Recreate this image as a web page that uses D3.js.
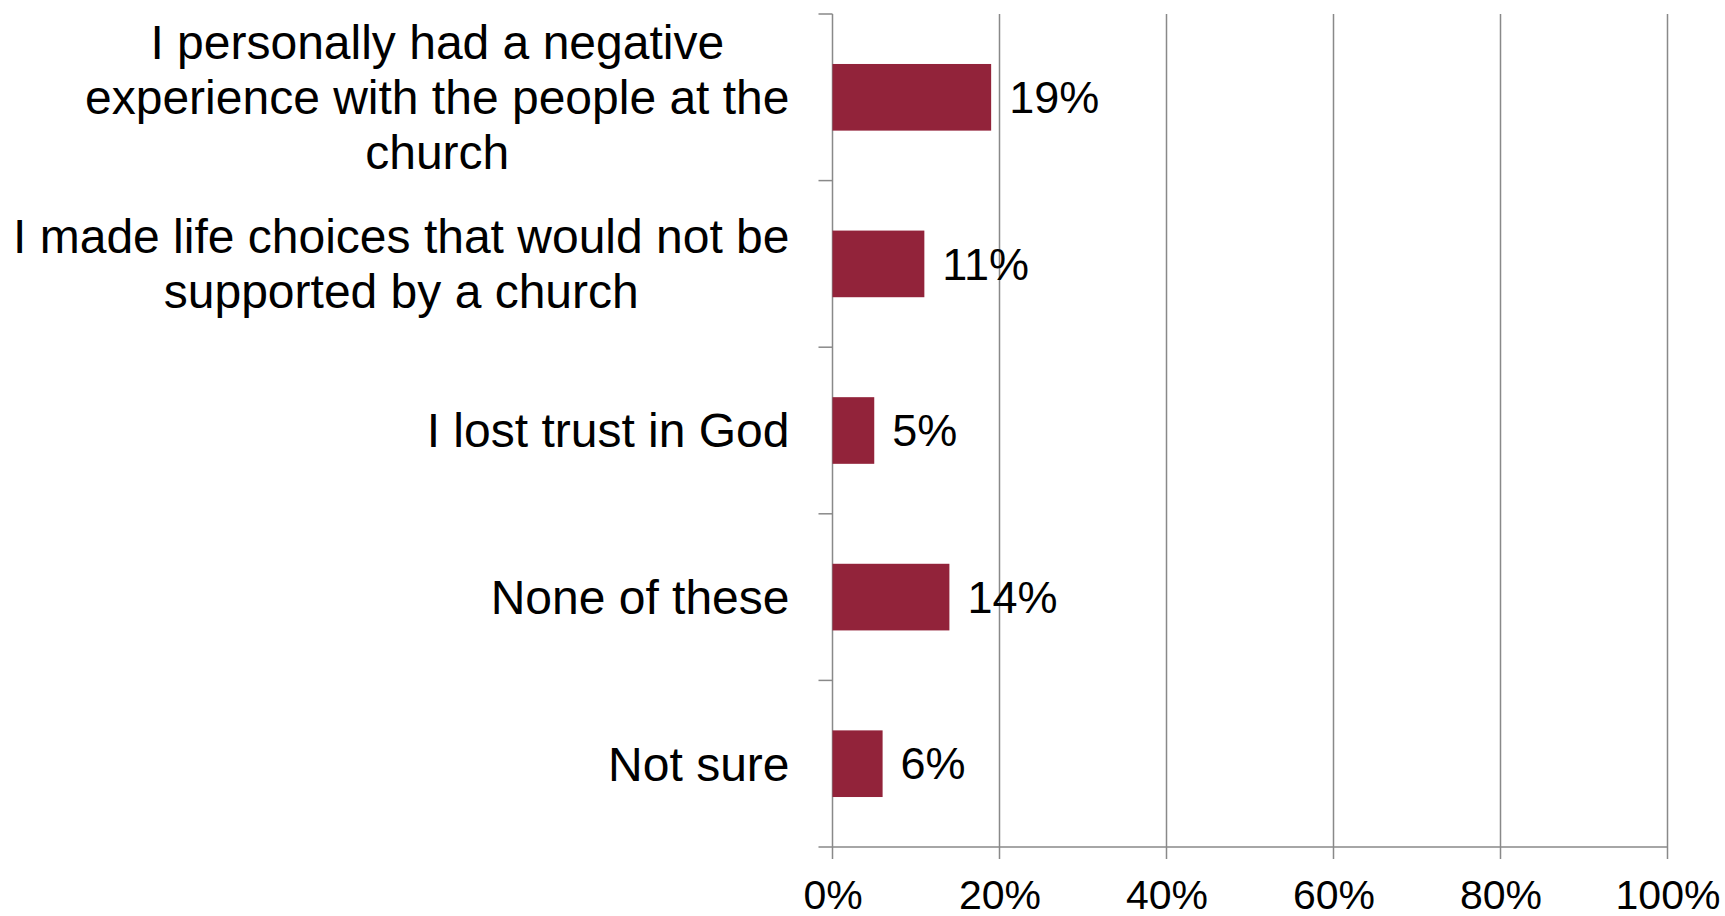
<!DOCTYPE html>
<html>
<head>
<meta charset="utf-8">
<script src="https://cdn.jsdelivr.net/npm/d3@7"></script>
<style>
  body { margin: 0; background: #fff; }
  text { font-family: "Liberation Sans", Arial, sans-serif; fill: #000; }
</style>
</head>
<body>
<div id="chart"></div>
<script>
var categories = [
    "I personally had a negative\nexperience with the people at the\nchurch",
    "I made life choices that would not be\nsupported by a church",
    "I lost trust in God",
    "None of these",
    "Not sure"
];
var values = [0.19, 0.11, 0.05, 0.14, 0.06];
var tickValues = [0, 0.2, 0.4, 0.6, 0.8, 1.0];

var width = 1725, height = 916;
var margin = { top: 14, right: 57.5, bottom: 69, left: 832.5 };
var gridColor = "#898989";
var barColor = "#92233A";

var svg = d3.select("#chart")
    .append("svg")
    .attr("width", width)
    .attr("height", height);

var x = d3.scaleLinear().domain([0, 1]).range([margin.left, width - margin.right]);
var y = d3.scaleBand().domain(categories).range([margin.top, height - margin.bottom]).padding(0);
var yBottom = height - margin.bottom;

// vertical gridlines (the one at 0 doubles as the y axis), running past the x axis as ticks
svg.append("g")
    .selectAll("line")
    .data(tickValues)
    .enter()
    .append("line")
    .attr("x1", function (d) { return x(d); })
    .attr("x2", function (d) { return x(d); })
    .attr("y1", margin.top)
    .attr("y2", yBottom + 12)
    .style("stroke", gridColor)
    .style("stroke-width", 1.5);

// x axis line
svg.append("line")
    .attr("x1", x(0) - 14)
    .attr("x2", x(1))
    .attr("y1", yBottom)
    .attr("y2", yBottom)
    .style("stroke", gridColor)
    .style("stroke-width", 1.5);

// category tick marks at band boundaries
var boundaries = categories.map(function (d) { return y(d); });
svg.append("g")
    .selectAll("line")
    .data(boundaries)
    .enter()
    .append("line")
    .attr("x1", x(0) - 14)
    .attr("x2", x(0))
    .attr("y1", function (d) { return d; })
    .attr("y2", function (d) { return d; })
    .style("stroke", gridColor)
    .style("stroke-width", 1.5);

// x tick labels
var xAxis = d3.axisBottom(x)
    .tickValues(tickValues)
    .tickFormat(d3.format(".0%"))
    .tickSize(0);

var gx = svg.append("g")
    .attr("transform", "translate(0," + yBottom + ")")
    .call(xAxis);
gx.select(".domain").remove();
gx.selectAll("text")
    .attr("y", 33)
    .attr("dy", "0.71em")
    .style("font-size", "41px")
    .style("font-family", "'Liberation Sans', Arial, sans-serif")
    .style("fill", "#000");

// bars
var barH = y.bandwidth() * 0.4;
svg.append("g")
    .selectAll("rect")
    .data(values)
    .enter()
    .append("rect")
    .attr("x", x(0))
    .attr("y", function (d, i) { return y(categories[i]) + (y.bandwidth() - barH) / 2; })
    .attr("width", function (d) { return x(d) - x(0); })
    .attr("height", barH)
    .style("fill", barColor);

// value labels
svg.append("g")
    .selectAll("text")
    .data(values)
    .enter()
    .append("text")
    .attr("x", function (d) { return x(d) + 18; })
    .attr("y", function (d, i) { return y(categories[i]) + y.bandwidth() / 2; })
    .attr("dy", "0.35em")
    .style("font-size", "45px")
    .text(function (d) { return Math.round(d * 100) + "%"; });

// category labels: block right-aligned to the axis, lines centred within the block
var labelRight = x(0) - 43;
var lineH = 55;
categories.forEach(function (c) {
    var lines = c.split("\n");
    var g = svg.append("g");
    var texts = g.selectAll("text")
        .data(lines)
        .enter()
        .append("text")
        .style("font-size", "48px")
        .attr("text-anchor", "middle")
        .attr("y", function (d, i) { return y(c) + y.bandwidth() / 2 + (i - (lines.length - 1) / 2) * lineH; })
        .attr("dy", "0.35em")
        .text(function (d) { return d; });
    var maxW = 0;
    texts.each(function () { maxW = Math.max(maxW, this.getComputedTextLength()); });
    texts.attr("x", labelRight - maxW / 2);
});
</script>
</body>
</html>
